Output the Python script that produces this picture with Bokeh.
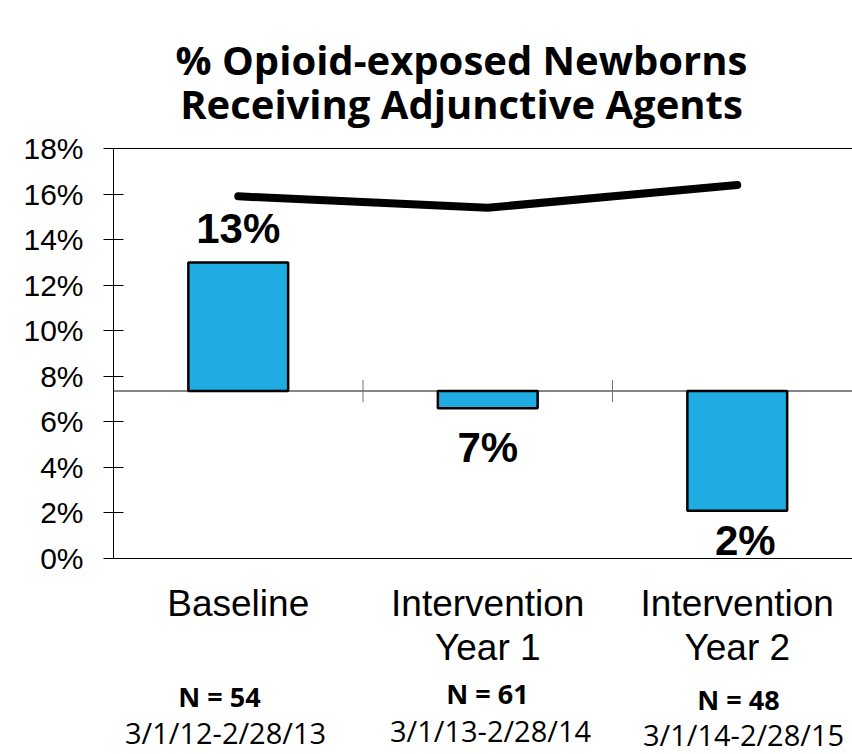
from bokeh.plotting import figure
from bokeh.models import Label, Span, NumeralTickFormatter, Range1d, FixedTicker
from bokeh.embed import file_html
from bokeh.resources import INLINE

# --- data -------------------------------------------------------------
title_lines = ["% Opioid-exposed Newborns", "Receiving Adjunctive Agents"]
category_lines = [["Baseline"], ["Intervention", "Year 1"], ["Intervention", "Year 2"]]
sample_sizes = [54, 61, 48]
periods = ["3/1/12-2/28/13", "3/1/13-2/28/14", "3/1/14-2/28/15"]
bar_values = [0.13, 0.066, 0.021]      # share receiving adjunctive agents
line_values = [0.159, 0.154, 0.164]    # upper trend line
reference_level = 0.0735               # level the bars hang from
y_ticks = [0.00, 0.02, 0.04, 0.06, 0.08, 0.10, 0.12, 0.14, 0.16, 0.18]

# --- layout (pixels) --------------------------------------------------
W, H = 852, 754
LEFT, TOP, BOTTOM = 113, 148, 558      # plotting area of the axis
CAT_PX = 249.5
Y_MAX = 0.18
PX = Y_MAX / (BOTTOM - TOP)            # data units per pixel


def y_at(py):
    """Data y for a pixel row of the page."""
    return (BOTTOM - py) * PX


def x_at(px):
    return (px - LEFT) / CAT_PX


centers = [i + 0.5 for i in range(len(bar_values))]
boundaries = [i + 1 for i in range(len(bar_values) - 1)]

# the frame spans the full page height so the headings and footers
# below the axis can be placed as labels; the axis itself is bounded
p = figure(width=W, height=H, output_backend="svg", toolbar_location=None,
           x_axis_type=None, x_range=Range1d(0, (W - LEFT) / CAT_PX),
           y_range=Range1d(y_at(H), y_at(0)),
           min_border_left=LEFT, min_border_right=0,
           min_border_top=0, min_border_bottom=0)
p.outline_line_color = None
p.grid.visible = False
p.background_fill_color = "white"
p.border_fill_color = "white"

# y axis
ax = p.yaxis[0]
ax.bounds = (0, Y_MAX)
ax.ticker = FixedTicker(ticks=y_ticks)
ax.formatter = NumeralTickFormatter(format="0%")
ax.major_tick_in = 10
ax.major_tick_out = 10
ax.minor_tick_line_color = None
ax.axis_line_color = "black"
ax.major_tick_line_color = "black"
ax.major_label_text_font = "Liberation Sans"
ax.major_label_text_font_size = "30px"
ax.major_label_text_color = "black"
ax.major_label_standoff = 20

# top / bottom rules of the plotting area
for yv in (0, Y_MAX):
    p.add_layout(Span(location=yv, dimension="width", line_color="black",
                      line_width=1.2, level="underlay"))

# reference line the bars hang from, with category separators
p.add_layout(Span(location=reference_level, dimension="width",
                  line_color="#858585", line_width=2, level="underlay"))
p.segment(x0=boundaries, x1=boundaries,
          y0=[reference_level - 11 * PX] * len(boundaries),
          y1=[reference_level + 11 * PX] * len(boundaries),
          line_color="#707070", line_width=1)

# bars
p.vbar(x=centers, width=0.4, bottom=reference_level, top=bar_values,
       fill_color="#1EACE3", line_color="black", line_width=2.5)

# trend line
p.line(x=centers, y=line_values, line_color="black", line_width=8,
       line_cap="round", line_join="round")

# value labels
for c, v in zip(centers, bar_values):
    above = v > reference_level
    py_edge = BOTTOM - v / PX
    py = py_edge - 34 if above else py_edge + (39 if v > 0.04 else 30)
    p.add_layout(Label(x=c + (0 if v > 0.04 or above else 8 / CAT_PX), y=y_at(py),
                       text=f"{round(v * 100)}%", text_align="center",
                       text_baseline="middle", text_font="Liberation Sans",
                       text_font_style="bold", text_font_size="42px", text_color="black"))

# title
for py, t in zip([59, 103], title_lines):
    p.add_layout(Label(x=x_at(461), y=y_at(py), text=t, text_align="center",
                       text_baseline="middle", text_font="Open Sans",
                       text_font_style="bold", text_font_size="40px", text_color="black"))

# category names
for c, lines in zip(centers, category_lines):
    for k, t in enumerate(lines):
        p.add_layout(Label(x=c, y=y_at(603 + 44 * k), text=t, text_align="center",
                           text_baseline="middle", text_font="Liberation Sans",
                           text_font_size="37px", text_color="black"))

# sample sizes and periods
n_x, n_y = [219, 487, 738], [696, 693, 699]
d_x, d_y = [225, 490, 743], [732, 730, 734]
for i, (n, per) in enumerate(zip(sample_sizes, periods)):
    p.add_layout(Label(x=x_at(n_x[i]), y=y_at(n_y[i]), text=f"N = {n}",
                       text_align="center", text_baseline="middle", text_font="Open Sans",
                       text_font_style="bold", text_font_size="27px", text_color="black"))
    p.add_layout(Label(x=x_at(d_x[i]), y=y_at(d_y[i]), text=per,
                       text_align="center", text_baseline="middle", text_font="Open Sans",
                       text_font_size="29px", text_color="black"))

open("out.html", "w").write(file_html(p, INLINE))
